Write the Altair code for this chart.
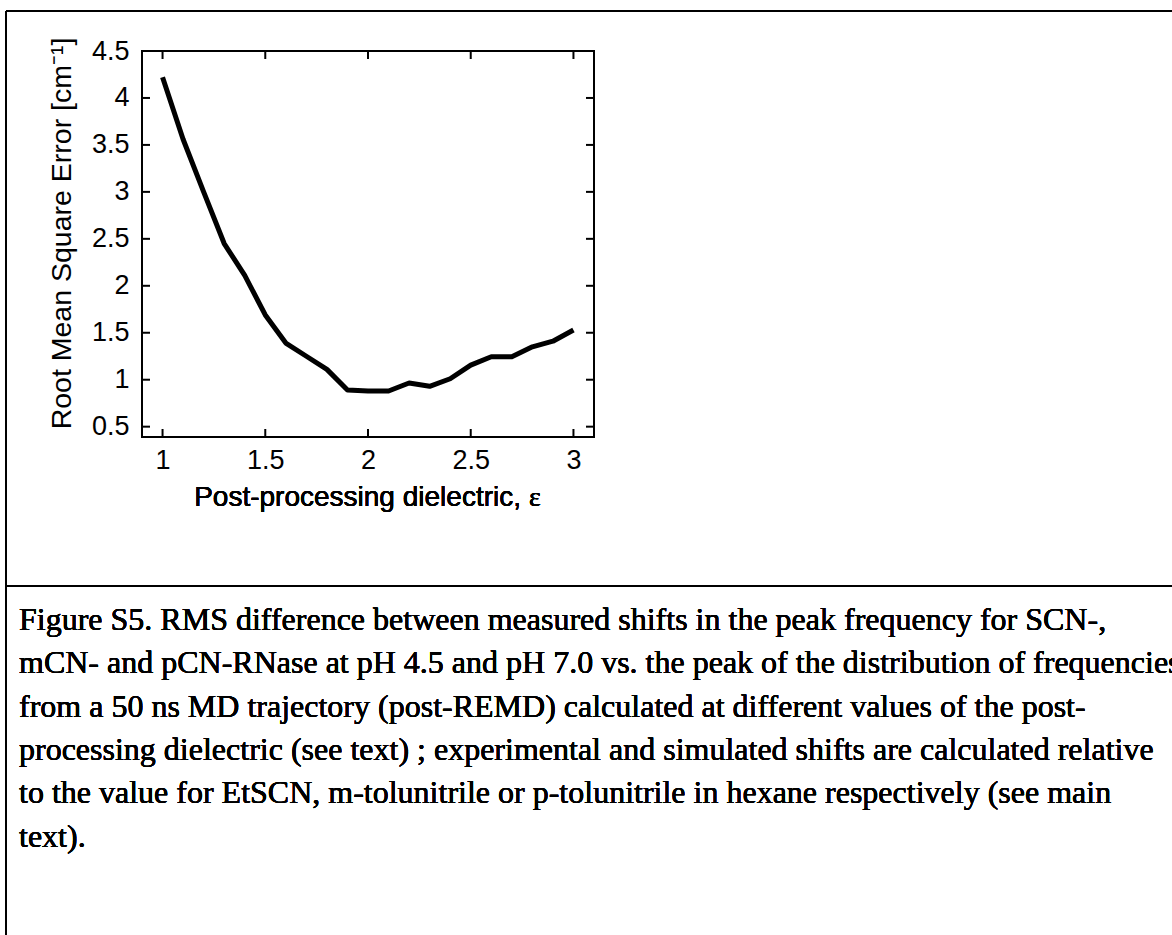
import altair as alt
import pandas as pd

# data
eps = [1.0, 1.1, 1.2, 1.3, 1.4, 1.5, 1.6, 1.7, 1.8, 1.9, 2.0,
       2.1, 2.2, 2.3, 2.4, 2.5, 2.6, 2.7, 2.8, 2.9, 3.0]
rmse = [4.22, 3.56, 3.00, 2.45, 2.11, 1.69, 1.39, 1.25, 1.11, 0.89, 0.88,
        0.88, 0.965, 0.93, 1.01, 1.155, 1.245, 1.245, 1.35, 1.41, 1.53]
x_ticks = [1, 1.5, 2, 2.5, 3]
y_ticks = [0.5, 1, 1.5, 2, 2.5, 3, 3.5, 4, 4.5]
x_title_text = "Post-processing dielectric,"
x_title_symbol = "ε"
y_title_text = "Root Mean Square Error [cm⁻¹]"
caption_lines = [
    "Figure S5. RMS difference between measured shifts in the peak frequency for SCN-,",
    "mCN- and pCN-RNase at pH 4.5 and pH 7.0 vs. the peak of the distribution of frequencies",
    "from a 50 ns MD  trajectory (post-REMD) calculated at different values of the post-",
    "processing dielectric (see text) ; experimental and simulated shifts are calculated relative",
    "to the value for EtSCN, m-tolunitrile or p-tolunitrile in hexane respectively (see main",
    "text).",
]

W, H = 452, 386
PL, PT = 142, 51
CW, CH = 1172, 935

df = pd.DataFrame({"eps": eps, "rmse": rmse})
dfx = pd.DataFrame({"t": x_ticks})
dfy = pd.DataFrame({"t": y_ticks})

xs = alt.Scale(domain=[0.9, 3.1], nice=False, zero=False)
ys = alt.Scale(domain=[0.39, 4.5], nice=False, zero=False)
SANS = "Liberation Sans"
SERIF = "Liberation Serif"

line = alt.Chart(df).mark_line(color="black", strokeWidth=5, strokeJoin="round").encode(
    x=alt.X("eps:Q", scale=xs,
            axis=alt.Axis(values=x_ticks, format="~g", ticks=False, domain=False, grid=False,
                          labelFont=SANS, labelFontSize=27, labelColor="black", labelPadding=10,
                          title="")),
    y=alt.Y("rmse:Q", scale=ys,
            axis=alt.Axis(values=y_ticks, format="~g", ticks=False, domain=False, grid=False,
                          labelFont=SANS, labelFontSize=27, labelColor="black", labelPadding=13,
                          title=y_title_text, titleFont=SANS, titleFontSize=28.5,
                          titleFontWeight="normal", titleColor="black", titlePadding=15,
                          titleY=182)),
)

xt_bottom = alt.Chart(dfx).mark_rule(color="black", strokeWidth=2).encode(
    x=alt.X("t:Q", scale=xs), y=alt.value(H), y2=alt.value(H - 8))
xt_top = alt.Chart(dfx).mark_rule(color="black", strokeWidth=2).encode(
    x=alt.X("t:Q", scale=xs), y=alt.value(0), y2=alt.value(8))
yt_left = alt.Chart(dfy).mark_rule(color="black", strokeWidth=2).encode(
    y=alt.Y("t:Q", scale=ys), x=alt.value(0), x2=alt.value(8))
yt_right = alt.Chart(dfy).mark_rule(color="black", strokeWidth=2).encode(
    y=alt.Y("t:Q", scale=ys), x=alt.value(W), x2=alt.value(W - 8))

# x-axis title: sans text followed by a serif epsilon
xtitle_a = alt.Chart(dfx).mark_text(
    align="right", baseline="alphabetic", font=SANS, fontSize=28, color="black").encode(
    x=alt.value(379), y=alt.value(455), text=alt.value(x_title_text))
xtitle_b = alt.Chart(dfx).mark_text(
    align="left", baseline="alphabetic", font=SERIF, fontSize=28, color="black").encode(
    x=alt.value(387), y=alt.value(455), text=alt.value(x_title_symbol))

# outer box of the figure and the caption divider
top_border = alt.Chart(dfx).mark_rule(color="black", strokeWidth=2).encode(
    x=alt.value(-PL + 6), x2=alt.value(CW - PL), y=alt.value(11 - PT))
left_border = alt.Chart(dfx).mark_rule(color="black", strokeWidth=2).encode(
    x=alt.value(-PL + 6), y=alt.value(11 - PT), y2=alt.value(CH - PT))
divider = alt.Chart(dfx).mark_rule(color="black", strokeWidth=2).encode(
    x=alt.value(-PL + 6), x2=alt.value(CW - PL), y=alt.value(586 - PT))

caption = alt.Chart(dfx).mark_text(
    align="left", baseline="middle", font=SERIF, fontSize=32,
    lineHeight=43.3, color="black").encode(
    x=alt.value(19 - PL), y=alt.value(620 - PT), text=alt.value(caption_lines))

chart = alt.layer(line, xt_bottom, xt_top, yt_left, yt_right, xtitle_a, xtitle_b,
                  top_border, left_border, divider, caption).properties(
    width=W, height=H,
    autosize=alt.AutoSizeParams(type="none"),
    padding={"left": PL, "top": PT, "right": CW - PL - W, "bottom": CH - PT - H},
    background="white",
).configure_view(stroke="black", strokeWidth=2)

chart.save("out.html", embed_options={"renderer": "svg", "actions": False})
